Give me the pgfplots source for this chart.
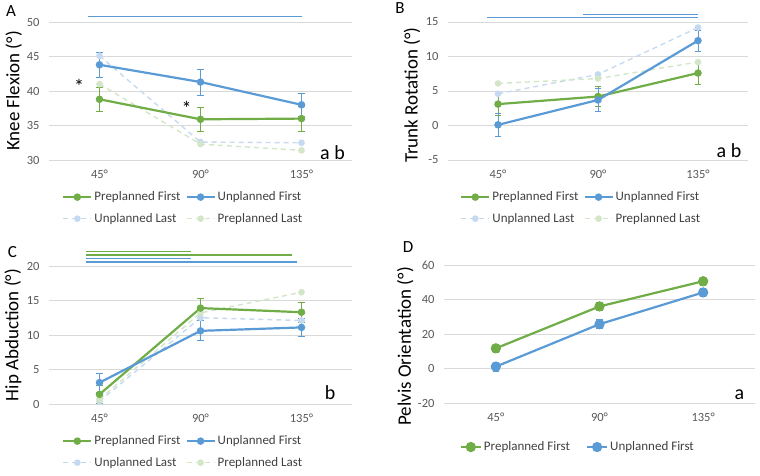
\documentclass[border=0pt]{standalone}
\usepackage{fontspec}
\setmainfont{Carlito}
\usepackage{pgfplots}
\pgfplotsset{compat=1.18}

\definecolor{cgreen}{HTML}{70AD47}
\definecolor{cblue}{HTML}{5B9BD5}
\definecolor{lblue}{HTML}{C5DAF0}
\definecolor{lgreen}{HTML}{D3E6C8}
\definecolor{gridgray}{HTML}{D9D9D9}
\definecolor{tickgray}{HTML}{595959}
\definecolor{leggray}{HTML}{404040}

\pgfplotsset{
  panel/.style={
    scale only axis, width=303pt, height=138pt,
    xmin=-0.5, xmax=2.5, xtick={0,1,2}, xticklabels={45°,90°,135°},
    axis line style={draw=none}, tick style={draw=none}, major tick length=0pt,
    ymajorgrids, grid style={gridgray, line width=0.8pt},
    /pgf/number format/assume math mode=true,
    tick label style={font=\fontsize{12.5}{14}\selectfont, text=tickgray},
    yticklabel style={xshift=-6pt},
    xticklabel style={yshift=-6pt},
    ylabel style={font=\fontsize{19}{22}\selectfont, text=black},
    clip=false,
    legend cell align=left,
    legend columns=2,
    legend style={draw=none, fill=none, inner sep=0pt,
      font=\fontsize{13}{15}\selectfont, text=leggray,
      row sep=7pt,
      /tikz/every even column/.append style={column sep=3pt}},
    legend image code/.code={%
      \draw[mark repeat=2,mark phase=2,#1] plot coordinates {(0pt,0pt) (14pt,0pt) (28pt,0pt)};},
  },
  pfleg/.style={cgreen, line width=2.2pt, mark=*, mark size=2.6pt, mark options={solid}},
  ufleg/.style={cblue, line width=2.2pt, mark=*, mark size=2.6pt, mark options={solid}},
  ulleg/.style={lblue, line width=1.4pt, dash pattern=on 5pt off 4pt, mark=*, mark size=2.6pt, mark options={solid}},
  plleg/.style={lgreen, line width=1.4pt, dash pattern=on 5pt off 4pt, mark=*, mark size=2.6pt, mark options={solid}},
  errs/.style={error bars/.cd, y dir=both, y explicit, error mark=|,
    error bar style={line width=0.8pt, #1},
    error mark options={line width=0.8pt, mark size=3.2pt, #1}},
  sig/.style={line width=1.2pt, #1, no markers, forget plot},
}

\begin{document}
\begin{tikzpicture}[x=1pt,y=1pt]
\useasboundingbox (0pt,0pt) rectangle (760pt,475pt);

% ---------- A: knee flexion ----------
\begin{axis}[panel, at={(49pt,315pt)}, anchor=south west,
  ymin=30, ymax=50, ytick={30,35,40,45,50},
  ylabel={Knee Flexion (°)},
  ylabel style={at={(axis description cs:-0.116,0.5)}, anchor=center},
  legend style={at={(axis description cs:0.043,-0.215)}, anchor=north west}]
\addlegendimage{pfleg}\addlegendimage{ufleg}\addlegendimage{ulleg}\addlegendimage{plleg}
\legend{Preplanned First, Unplanned First, Unplanned Last, Preplanned Last}
\addplot[ulleg, forget plot] coordinates {(0,45.1) (1,32.6) (2,32.5)};
\addplot[plleg, forget plot] coordinates {(0,41.0) (1,32.3) (2,31.4)};
\addplot[pfleg, forget plot, errs=cgreen] coordinates {(0,38.8) +- (0,1.7) (1,35.9) +- (0,1.7) (2,36.0) +- (0,1.8)};
\addplot[ufleg, forget plot, errs=cblue] coordinates {(0,43.8) +- (0,1.8) (1,41.3) +- (0,1.9) (2,38.0) +- (0,1.7)};
\addplot[sig=cblue] coordinates {(-0.11,50.77) (2.0,50.77)};
\end{axis}

% ---------- B: trunk rotation ----------
\begin{axis}[panel, at={(448pt,315pt)}, anchor=south west, width=300pt,
  ymin=-5, ymax=15, ytick={-5,0,5,10,15},
  ylabel={Trunk Rotation (°)},
  ylabel style={at={(axis description cs:-0.12,0.47)}, anchor=center},
  legend style={at={(axis description cs:0.04,-0.215)}, anchor=north west}]
\addlegendimage{pfleg}\addlegendimage{ufleg}\addlegendimage{ulleg}\addlegendimage{plleg}
\legend{Preplanned First, Unplanned First, Unplanned Last, Preplanned Last}
\addplot[ulleg, forget plot] coordinates {(0,4.6) (1,7.4) (2,14.2)};
\addplot[plleg, forget plot] coordinates {(0,6.1) (1,6.8) (2,9.2)};
\addplot[pfleg, forget plot, errs=cgreen] coordinates {(0,3.1) +- (0,1.6) (1,4.2) +- (0,1.5) (2,7.6) +- (0,1.7)};
\addplot[ufleg, forget plot, errs=cblue] coordinates {(0,0.1) +- (0,1.65) (1,3.7) +- (0,1.7) (2,12.3) +- (0,1.5)};
\addplot[sig=cblue] coordinates {(-0.11,15.62) (2.0,15.62)};
\addplot[sig=cblue] coordinates {(0.85,16.1) (2.0,16.1)};
\end{axis}

% ---------- C: hip abduction ----------
\begin{axis}[panel, at={(49pt,71pt)}, anchor=south west,
  ymin=0, ymax=20, ytick={0,5,10,15,20},
  ylabel={Hip Abduction (°)},
  ylabel style={at={(axis description cs:-0.119,0.5)}, anchor=center},
  legend style={at={(axis description cs:0.043,-0.215)}, anchor=north west}]
\addlegendimage{pfleg}\addlegendimage{ufleg}\addlegendimage{ulleg}\addlegendimage{plleg}
\legend{Preplanned First, Unplanned First, Unplanned Last, Preplanned Last}
\addplot[ulleg, forget plot] coordinates {(0,0.4) (1,12.5) (2,12.1)};
\addplot[plleg, forget plot] coordinates {(0,0.7) (1,13.2) (2,16.2)};
\addplot[pfleg, forget plot, errs=cgreen] coordinates {(0,1.4) +- (0,1.3) (1,13.9) +- (0,1.35) (2,13.3) +- (0,1.45)};
\addplot[ufleg, forget plot, errs=cblue] coordinates {(0,3.1) +- (0,1.4) (1,10.6) +- (0,1.45) (2,11.1) +- (0,1.25)};
\addplot[sig=cgreen] coordinates {(-0.13,22.07) (0.91,22.07)};
\addplot[sig=cgreen] coordinates {(-0.13,21.6) (1.91,21.6)};
\addplot[sig=cblue] coordinates {(-0.13,21.06) (0.91,21.06)};
\addplot[sig=cblue] coordinates {(-0.13,20.58) (1.96,20.58)};
\end{axis}

% ---------- D: pelvis orientation ----------
\begin{axis}[panel, at={(444pt,72pt)}, anchor=south west, width=311pt,
  ymin=-20, ymax=60, ytick={-20,0,20,40,60},
  ylabel={Pelvis Orientation (°)},
  ylabel style={at={(axis description cs:-0.125,0.41)}, anchor=center},
  legend image code/.code={%
    \draw[mark repeat=2,mark phase=2,#1] plot coordinates {(0pt,0pt) (10pt,0pt) (20pt,0pt)};},
  legend style={at={(axis description cs:0.05,-0.265)}, anchor=north west,
    /tikz/every even column/.append style={column sep=14pt}}]
\addlegendimage{pfleg, mark size=4pt}\addlegendimage{ufleg, mark size=4pt}
\legend{Preplanned First, Unplanned First}
\addplot[pfleg, mark size=4pt, forget plot, errs=cgreen] coordinates {(0,11.7) +- (0,2.5) (1,36.0) +- (0,2.5) (2,50.6) +- (0,2.5)};
\addplot[ufleg, mark size=4pt, forget plot, errs=cblue] coordinates {(0,1.1) +- (0,2.5) (1,25.7) +- (0,2.5) (2,44.1) +- (0,2.5)};
\end{axis}

% ---------- panel letters and annotations ----------
\begin{scope}[every node/.style={inner sep=0pt}]
\node[anchor=base, font=\fontsize{17}{19}\selectfont] at (11pt,458.3pt) {A};
\node[anchor=base, font=\fontsize{17}{19}\selectfont] at (400pt,461pt) {B};
\node[anchor=base, font=\fontsize{17}{19}\selectfont] at (12.5pt,217.7pt) {C};
\node[anchor=base, font=\fontsize{17}{19}\selectfont] at (408pt,222.3pt) {D};
\node[anchor=base, font=\fontsize{20}{22}\selectfont] at (332.5pt,316pt) {a b};
\node[anchor=base, font=\fontsize{20}{22}\selectfont] at (729pt,318pt) {a b};
\node[anchor=base, font=\fontsize{20}{22}\selectfont] at (330pt,75.7pt) {b};
\node[anchor=base, font=\fontsize{20}{22}\selectfont] at (739.5pt,75.7pt) {a};
\node[font=\fontsize{20}{22}\selectfont] at (79pt,389pt) {*};
\node[font=\fontsize{20}{22}\selectfont] at (186.7pt,366.5pt) {*};
\end{scope}
\end{tikzpicture}
\end{document}
